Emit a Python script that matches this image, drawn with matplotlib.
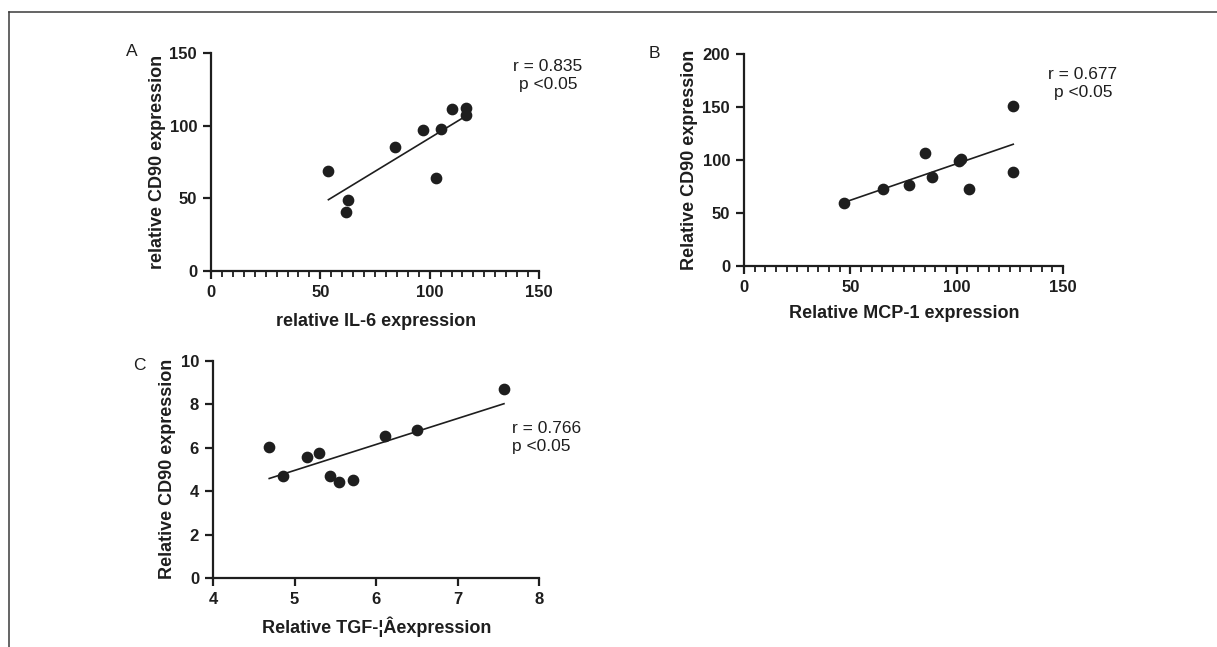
import numpy as np
import matplotlib
matplotlib.use("Agg")
import matplotlib.pyplot as plt
from matplotlib.lines import Line2D
from matplotlib.ticker import MultipleLocator

plt.rcParams['font.family'] = ['Liberation Sans', 'DejaVu Sans']

# panel A: IL-6 vs CD90
il6_x = [53.7, 61.8, 62.7, 84.3, 96.8, 105.1, 102.7, 110.3, 116.7, 116.7]
il6_y = [68.9, 40.4, 48.7, 85.0, 97.2, 97.6, 64.3, 111.2, 112.1, 107.5]

# panel B: MCP-1 vs CD90
mcp_x = [46.9, 65.4, 77.6, 85.1, 88.4, 100.9, 101.9, 105.6, 126.6, 126.3]
mcp_y = [59.7, 72.6, 76.7, 106.9, 84.0, 99.4, 101.3, 72.3, 151.3, 89.0]

# panel C: TGF vs CD90
tgf_x = [4.69, 4.86, 5.15, 5.30, 5.44, 5.55, 5.72, 6.11, 6.50, 7.57]
tgf_y = [6.03, 4.68, 5.57, 5.78, 4.72, 4.42, 4.52, 6.55, 6.83, 8.71]

W, H = 1217, 647
ink = '#1e1e1e'

fig = plt.figure(figsize=(W / 100, H / 100), dpi=100)


def fx(x):
    return x / W


def fy(y):
    return 1 - y / H


def panel(rect, x, y, xlim, ylim, xstep, ystep, xminor, xlabel, ylabel,
          xlab_pos, ylab_pos):
    l, t, r, b = rect
    ax = fig.add_axes([fx(l), fy(b), (r - l) / W, (b - t) / H])
    ax.scatter(x, y, s=55, color=ink, zorder=3, clip_on=False)
    k, c = np.polyfit(x, y, 1)
    xs = np.array([min(x), max(x)])
    ax.plot(xs, k * xs + c, color=ink, lw=1.2)
    ax.set_xlim(xlim)
    ax.set_ylim(ylim)
    ax.xaxis.set_major_locator(MultipleLocator(xstep))
    ax.yaxis.set_major_locator(MultipleLocator(ystep))
    if xminor:
        ax.xaxis.set_minor_locator(MultipleLocator(xminor))
    for s in ['top', 'right']:
        ax.spines[s].set_visible(False)
    for s in ['left', 'bottom']:
        ax.spines[s].set_linewidth(1.6)
        ax.spines[s].set_color(ink)
    ax.tick_params(which='major', length=6, width=1.6, color=ink,
                   labelsize=12, labelcolor=ink, pad=4)
    ax.tick_params(which='minor', length=4.5, width=1.3, color=ink)
    for lab in ax.get_xticklabels() + ax.get_yticklabels():
        lab.set_fontweight('bold')
    ax.set_xlabel(xlabel, fontsize=13, fontweight='bold', color=ink)
    ax.set_ylabel(ylabel, fontsize=13, fontweight='bold', color=ink,
                  va='center')
    ax.xaxis.set_label_coords(fx(xlab_pos[0]), fy(xlab_pos[1]),
                              transform=fig.transFigure)
    ax.xaxis.label.set_va('center')
    ax.yaxis.set_label_coords(fx(ylab_pos[0]), fy(ylab_pos[1]),
                              transform=fig.transFigure)
    ax.patch.set_alpha(0)
    return ax


panel((211, 53, 539, 271), il6_x, il6_y, (0, 150), (0, 150), 50, 50, 5,
      'relative IL-6 expression', 'relative CD90 expression',
      (376, 322), (158, 162))
panel((744, 54, 1063, 266), mcp_x, mcp_y, (0, 150), (0, 200), 50, 50, 5,
      'Relative MCP-1 expression', 'Relative CD90 expression',
      (904, 314), (690, 160))
panel((213, 361, 539, 578), tgf_x, tgf_y, (4, 8), (0, 10), 1, 2, None,
      'Relative TGF-¦Âexpression', 'Relative CD90 expression',
      (377, 627), (167, 469))

# panel letters
for letter, (x, y) in zip(['A', 'B', 'C'], [(132, 51), (654, 54), (139, 366)]):
    fig.text(fx(x), fy(y), letter, fontsize=12.5, color=ink,
             ha='center', va='center')

# correlation annotations
fig.text(fx(548), fy(71), 'r = 0.835', fontsize=12.5, color=ink,
         ha='center', va='baseline')
fig.text(fx(548), fy(89), 'p <0.05', fontsize=12.5, color=ink,
         ha='center', va='baseline')
fig.text(fx(1083), fy(79), 'r = 0.677', fontsize=12.5, color=ink,
         ha='center', va='baseline')
fig.text(fx(1083), fy(97), 'p <0.05', fontsize=12.5, color=ink,
         ha='center', va='baseline')
fig.text(fx(512), fy(433), 'r = 0.766', fontsize=12.5, color=ink,
         ha='left', va='baseline')
fig.text(fx(512), fy(451), 'p <0.05', fontsize=12.5, color=ink,
         ha='left', va='baseline')

# outer frame (top and left edges only)
fig.add_artist(Line2D([fx(9), 1], [fy(12), fy(12)], color='#3a3a3a', lw=1.1))
fig.add_artist(Line2D([fx(9), fx(9)], [fy(12), 0], color='#3a3a3a', lw=1.1))

fig.savefig('out.png', dpi=100)
